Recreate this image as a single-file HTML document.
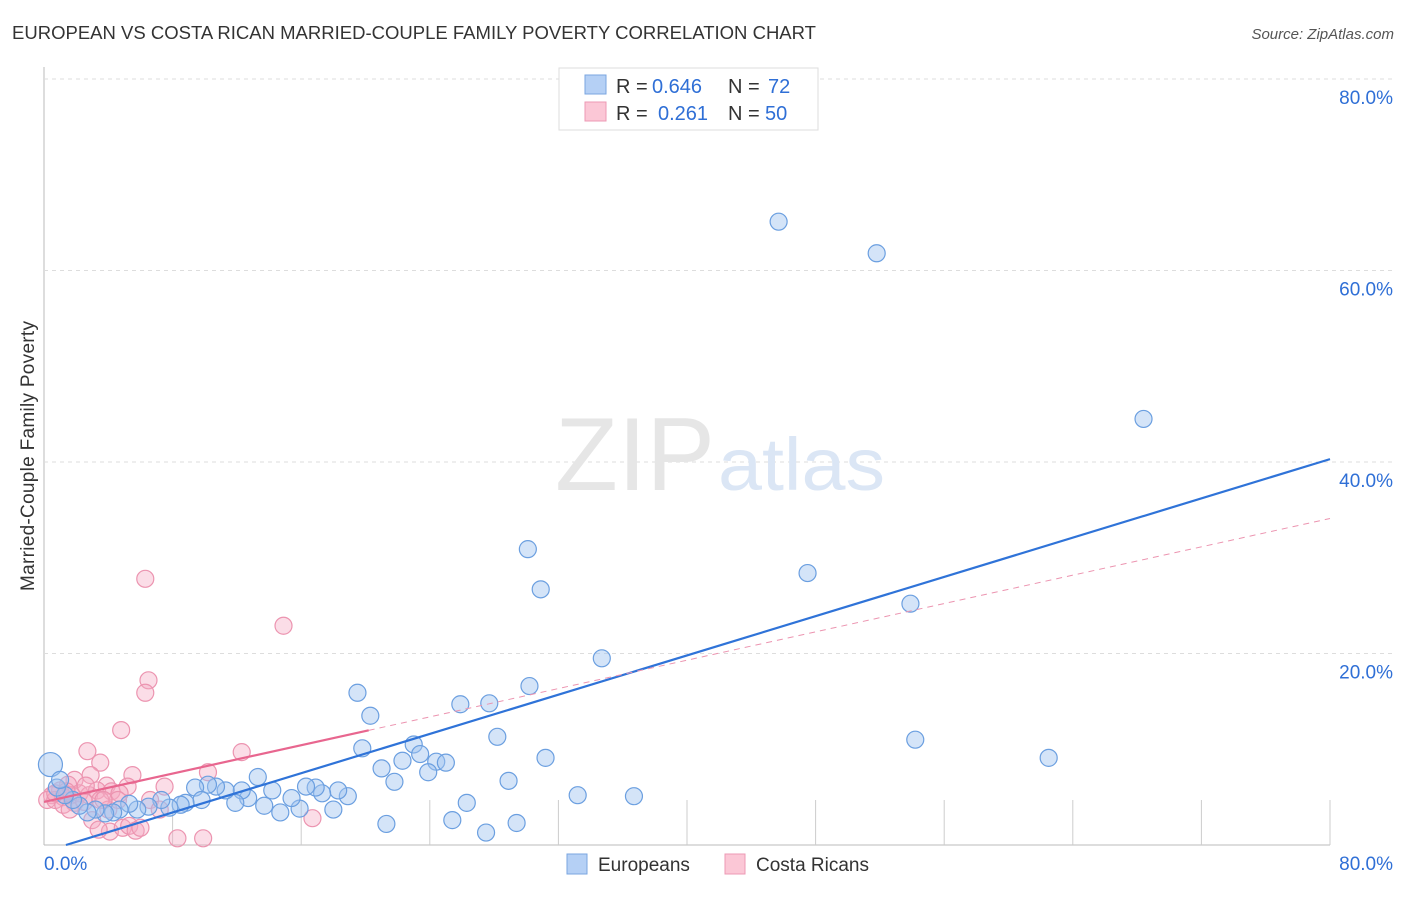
<!DOCTYPE html>
<html><head><meta charset="utf-8"><style>
body{margin:0;background:#fff;font-family:"Liberation Sans",sans-serif;}
svg text{font-family:"Liberation Sans",sans-serif;}
</style></head><body>
<svg id="chart" width="1406" height="892">
<text x="12" y="39" font-size="18" fill="#333" textLength="804" lengthAdjust="spacingAndGlyphs">EUROPEAN VS COSTA RICAN MARRIED-COUPLE FAMILY POVERTY CORRELATION CHART</text>
<text x="1394" y="39" font-size="15" fill="#555" font-style="italic" text-anchor="end">Source: ZipAtlas.com</text>
<text x="34" y="456" font-size="19" fill="#333" text-anchor="middle" textLength="270" transform="rotate(-90 34 456)">Married-Couple Family Poverty</text>
<g id="grid"></g>
<text x="555" y="490" font-size="104" fill="#e6e6e6" textLength="160" lengthAdjust="spacingAndGlyphs" font-family="Liberation Serif">ZIP</text>
<text x="718" y="490" font-size="74" fill="#dbe6f5" textLength="167" lengthAdjust="spacingAndGlyphs">atlas</text>
<g id="marks"></g>
<g>
<rect x="559" y="68" width="259" height="62" fill="#fff" stroke="#ddd"/>
<rect x="585" y="75" width="21" height="19" fill="#b5d0f5" stroke="#7aa6e0"/>
<rect x="585" y="102" width="21" height="19" fill="#fbc7d6" stroke="#ec9ab4"/>
<text x="616" y="93" font-size="20" fill="#333">R =</text>
<text x="652" y="93" font-size="20" fill="#2f6fd6">0.646</text>
<text x="728" y="93" font-size="20" fill="#333">N =</text>
<text x="768" y="93" font-size="20" fill="#2f6fd6">72</text>
<text x="616" y="120" font-size="20" fill="#333">R =</text>
<text x="658" y="120" font-size="20" fill="#2f6fd6">0.261</text>
<text x="728" y="120" font-size="20" fill="#333">N =</text>
<text x="765" y="120" font-size="20" fill="#2f6fd6">50</text>
</g>
<g>
<rect x="567" y="854" width="20" height="20" fill="#b5d0f5" stroke="#7aa6e0"/>
<text x="598" y="871" font-size="19" fill="#333">Europeans</text>
<rect x="725" y="854" width="20" height="20" fill="#fbc7d6" stroke="#ec9ab4"/>
<text x="756" y="871" font-size="19" fill="#333">Costa Ricans</text>
</g>
</svg>
<script>
const yTicks=[20,40,60,80];
const yTickLabels=["20.0%","40.0%","60.0%","80.0%"];
const euroX=[45.7,51.8,68.4,30.1,30.9,47.5,53.9,34.7,19.5,30.2,20.3,25.9,27.7,28.2,54.2,62.5,31.2,19.8,23.0,23.4,22.3,24.4,25.0,23.9,21.0,21.8,28.9,33.2,36.7,26.3,25.4,27.5,29.4,21.3,18.9,18.3,18.0,17.3,16.9,16.3,15.9,15.4,14.7,14.2,13.3,13.7,12.7,12.3,11.9,11.3,10.7,10.2,9.4,9.8,8.8,8.5,7.8,7.3,6.5,5.8,5.3,4.7,4.3,3.8,3.2,2.7,2.2,1.8,1.3,0.8,0.4,1.0];
const euroY=[65.1,61.8,44.5,30.9,26.7,28.4,25.2,19.5,15.9,16.6,13.5,14.7,14.8,11.3,11.0,9.1,9.1,10.1,10.5,9.5,8.8,8.7,8.6,7.6,8.0,6.6,6.7,5.2,5.1,4.4,2.6,1.3,2.3,2.2,5.1,5.7,3.7,5.4,6.0,6.1,3.8,4.9,3.4,5.7,7.1,4.1,4.9,5.7,4.4,5.7,6.1,6.3,6.0,4.7,4.4,4.2,3.9,4.7,4.0,3.7,4.3,3.7,3.4,3.3,3.7,3.4,4.1,4.7,5.2,6.0,8.4,6.8];
const costaX=[6.3,14.9,6.5,6.3,4.8,12.3,2.7,3.5,10.2,5.5,7.5,5.2,3.9,1.9,1.5,1.0,0.5,0.2,0.7,1.2,1.7,2.2,2.8,3.3,4.2,4.7,1.2,1.9,2.5,3.5,4.0,1.6,3.0,4.1,4.9,5.3,5.7,6.0,8.3,9.9,16.7,3.4,2.9,4.6,0.7,6.6,7.2,2.6,3.7,1.4];
const costaY=[27.8,22.9,17.2,15.9,12.0,9.7,9.8,8.6,7.6,7.3,6.1,6.1,6.2,6.8,6.3,5.7,5.2,4.7,4.7,5.0,5.2,5.4,5.2,5.7,5.6,5.4,4.2,4.4,4.5,4.7,3.7,3.7,2.6,1.4,1.8,2.0,1.5,1.8,0.7,0.7,2.8,1.6,7.3,4.7,5.4,4.7,3.7,6.2,4.7,5.6];
const euroTrend=[-0.70,0.5125];
const costaTrend=[4.5,0.37,20.2];
const X=v=>44+v*16.075, Y=v=>845-v*9.575;
const NS="http://www.w3.org/2000/svg";
function mk(t,a,p){const e=document.createElementNS(NS,t);for(const k in a)e.setAttribute(k,a[k]);p.appendChild(e);return e;}
const grid=document.getElementById('grid'), marks=document.getElementById('marks');
mk('line',{x1:44,y1:67,x2:44,y2:845,stroke:'#bbb'},grid);
mk('line',{x1:44,y1:845,x2:1330,y2:845,stroke:'#bbb'},grid);
yTicks.forEach((t,i)=>{
 const g=mk('line',{x1:44,y1:Y(t),x2:1394,y2:Y(t),stroke:'#ddd','stroke-dasharray':'4 4'},grid);
 
 
 const l=mk('text',{x:1393,y:Y(t)+25,'font-size':19,fill:'#2f6fd6','text-anchor':'end'},grid);l.textContent=yTickLabels[i];
 
 
});
for(let i=1;i<=10;i++){const x=X(i*8);const t=mk('line',{x1:x,y1:800,x2:x,y2:845,stroke:'#ccc'},grid);
 
 }
let xl=mk('text',{x:44,y:870,'font-size':19,fill:'#2f6fd6'},grid);xl.textContent='0.0%';


xl=mk('text',{x:1393,y:870,'font-size':19,fill:'#2f6fd6','text-anchor':'end'},grid);xl.textContent='80.0%';


costaX.forEach((x,i)=>{const c=mk('circle',{cx:X(x),cy:Y(costaY[i]),r:8.5,fill:'rgba(246,170,196,0.4)',stroke:'#ec94b0','stroke-width':1.2},marks);
 
 });
euroX.forEach((x,i)=>{const c=mk('circle',{cx:X(x),cy:Y(euroY[i]),r:i==70?12:8.5,fill:'rgba(160,196,240,0.45)',stroke:'#6b9fe0','stroke-width':1.2},marks);
 
 });
const x0=-euroTrend[0]/euroTrend[1];
let ln=mk('line',{x1:X(x0),y1:Y(0),x2:X(80),y2:Y(euroTrend[0]+80*euroTrend[1]),stroke:'#2f73d8','stroke-width':2.2},marks);


ln=mk('line',{x1:X(costaTrend[2]),y1:Y(costaTrend[0]+costaTrend[2]*costaTrend[1]),x2:X(80),y2:Y(costaTrend[0]+80*costaTrend[1]),stroke:'#ec94b0','stroke-width':1,'stroke-dasharray':'6 5'},marks);


ln=mk('line',{x1:X(0),y1:Y(costaTrend[0]),x2:X(costaTrend[2]),y2:Y(costaTrend[0]+costaTrend[2]*costaTrend[1]),stroke:'#e8668f','stroke-width':2.2},marks);


</script>
</body></html>
